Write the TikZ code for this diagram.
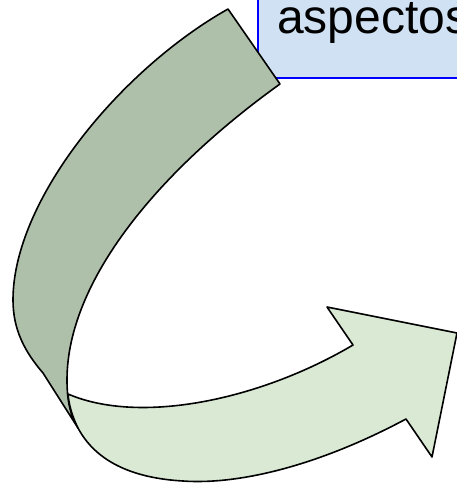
\documentclass[tikz,border=0pt]{standalone}
\usepackage{fontspec}
\setmainfont{Liberation Sans}
\begin{document}
\begin{tikzpicture}[x=1pt,y=-1pt,line join=round]
\definecolor{darkgreen}{HTML}{AEBFAA}
\definecolor{lightgreen}{HTML}{D9E9D4}
\definecolor{boxfill}{HTML}{CFE1F3}
\useasboundingbox (0,0) rectangle (457,483);
\clip (0,0) rectangle (457,483);
\tikzset{shapeline/.style={draw=black,line width=1.6pt}}
% text box
\draw[fill=boxfill,draw=blue,line width=1.6pt] (258,-20) rectangle (480,78);
\node[anchor=base west,inner sep=0pt,font=\fontsize{48}{58}\selectfont] (txt) at (277,33) {aspectos};
% dark upper band
\path[shapeline,fill=darkgreen] (228,9) -- (280,84)
  .. controls (160,170) and (67,280) .. (67,380)
  .. controls (67,400) and (70,415) .. (78,428)
  -- (43,373)
  .. controls (25,352) and (13,330) .. (13,300)
  .. controls (13,200) and (120,70) .. (228,9)
  -- cycle;
% light lower band with arrowhead
\path[shapeline,fill=lightgreen] (68,394)
  .. controls (140,425) and (260,400) .. (353,345)
  -- (327,307) -- (457,333) -- (432,457) -- (406,419)
  .. controls (320,465) and (240,485) .. (183,481)
  .. controls (130,478) and (95,460) .. (78,428)
  .. controls (72,416) and (69,405) .. (68,394)
  -- cycle;
\end{tikzpicture}
\end{document}
